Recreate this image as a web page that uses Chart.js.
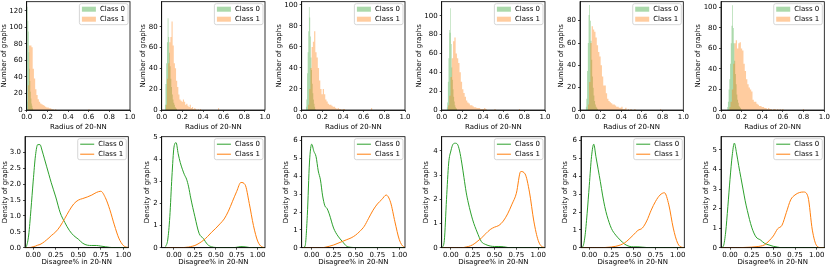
<!DOCTYPE html>
<html>
<head>
<meta charset="utf-8">
<script src="https://cdn.jsdelivr.net/npm/chart.js@4.4.0/dist/chart.umd.min.js"></script>
<style>
  html, body { margin: 0; padding: 0; background: #fff; }
  body { width: 831px; height: 269px; position: relative; overflow: hidden; }
  canvas { position: absolute; }
</style>
</head>
<body>
<script>
// ---- data ----
const classNames = ['Class 0', 'Class 1'];

// top row: histograms of "Radius of 20-NN"
const radiusTicks = [0, 0.2, 0.4, 0.6, 0.8, 1.0];
const countTicks = [
  [0, 20, 40, 60, 80, 100, 120],
  [0, 20, 40, 60, 80],
  [0, 20, 40, 60, 80, 100],
  [0, 20, 40, 60, 80, 100],
  [0, 20, 40, 60, 80],
  [0, 20, 40, 60, 80, 100]
];
const countMax = [131, 104, 103, 115, 97, 105.5];

const binStart0 = [0.0, 0.03, 0.04, 0.048, 0.055, 0.06];
const binWidth0 = [0.005, 0.007, 0.006, 0.006, 0.007, 0.007];
const counts0 = [
  [10, 125, 108, 95, 70, 50, 35, 22, 14, 8, 5, 2, 1],
  [5, 25, 45, 65, 88, 70, 55, 42, 30, 22, 15, 10, 7, 5, 3, 2, 1],
  [3, 10, 35, 55, 75, 98, 88, 70, 50, 38, 25, 16, 10, 6, 3, 1],
  [3, 8, 30, 55, 85, 82, 108, 70, 45, 32, 22, 14, 9, 5, 3, 2, 1],
  [3, 10, 35, 60, 85, 94, 80, 62, 45, 30, 20, 13, 8, 5, 3, 2, 1],
  [3, 8, 20, 30, 45, 65, 82, 102, 80, 65, 48, 35, 25, 15, 10, 7, 4, 3, 2, 1]
];

const binStart1 = [0.01, 0.04, 0.06, 0.06, 0.075, 0.08];
const binWidth1 = [0.012, 0.011, 0.012, 0.0125, 0.0125, 0.0125];
const counts1 = [
  [30, 78, 78, 76, 50, 38, 25, 18, 13, 10, 8, 7, 6, 5, 4, 3, 3, 2, 2, 1, 1, 0, 1,
   0, 0, 0, 0, 0, 0, 0, 0, 0, 0, 0, 0, 0, 0, 0, 0, 0, 0, 0, 0, 0, 0, 0, 0, 0, 0, 1],
  [5, 30, 45, 65, 70, 85, 62, 45, 40, 28, 22, 15, 10, 9, 8, 10, 8, 5, 6, 4, 3, 5, 2, 3, 1, 2, 1, 0, 1, 0, 1,
   0, 0, 0, 0, 0, 0, 0, 0, 0, 0, 0, 0, 0, 0, 0, 2],
  [5, 20, 40, 60, 65, 75, 55, 50, 40, 28, 20, 15, 20, 15, 10, 8, 6, 5, 5, 4, 3, 3, 2, 1, 2, 1, 1, 0, 1, 1,
   0, 0, 0, 0, 0, 0, 0, 0, 0, 0, 0, 0, 0, 0, 0, 0, 0, 0, 0, 0, 0, 2],
  [5, 15, 35, 55, 73, 77, 60, 55, 50, 40, 30, 22, 18, 14, 10, 8, 7, 5, 5, 4, 3, 3, 2, 2, 2, 1, 1, 1, 2, 1,
   0, 0, 0, 0, 0, 0, 1,
   0, 0, 0, 0, 0, 0, 0, 0, 0, 0, 0, 0, 0, 0, 0, 0, 0, 0, 1],
  [5, 25, 60, 75, 72, 70, 65, 58, 52, 48, 40, 30, 22, 22, 15, 10, 8, 7, 6, 5, 5, 4, 3, 3, 2, 2, 3, 1, 1, 2, 0, 1, 0, 1, 0, 0, 1,
   0, 0, 0, 0, 0, 0, 0, 0, 0, 0, 0, 0, 0, 0, 0, 0, 0, 0, 0, 1],
  [3, 8, 20, 45, 65, 68, 60, 65, 66, 60, 58, 45, 38, 30, 25, 22, 20, 18, 10, 8, 8, 6, 5, 4, 4, 3, 3, 2, 2, 1, 2, 1, 1, 0, 1, 1, 0, 1, 0, 1, 0, 1,
   0, 0, 0, 0, 0, 0, 0, 0, 0, 0, 0, 0, 0, 0, 0, 1]
];

// bottom row: density curves of "Disagree% in 20-NN"
const disagreeTicks = [0, 0.25, 0.5, 0.75, 1.0];
const disagreeMin = [-0.091, -0.147, -0.114, -0.105, -0.094, -0.104];
const disagreeMax = [1.055, 1.088, 1.065, 1.078, 1.075, 1.088];
const densityTicks = [
  [0, 0.5, 1.0, 1.5, 2.0, 2.5, 3.0],
  [0, 1, 2, 3, 4, 5],
  [0, 1, 2, 3, 4, 5, 6],
  [0, 1, 2, 3, 4],
  [0, 1, 2, 3, 4, 5, 6],
  [0, 1, 2, 3, 4, 5]
];
const densityMax = [3.5, 5.02, 6.22, 4.59, 6.22, 5.68];

const kdeX = [-0.1, -0.075, -0.05, -0.025, 0, 0.025, 0.05, 0.075, 0.1, 0.125, 0.15, 0.175, 0.2,
  0.25, 0.3, 0.35, 0.4, 0.45, 0.5, 0.55, 0.6, 0.65, 0.7, 0.75, 0.8, 0.85, 0.9, 0.95, 1.0, 1.05, 1.1];
const density0 = [
  [0, 0.05, 0.4, 1.2, 2.1, 2.9, 3.25, 3.25, 3.05, 2.8, 2.55, 2.3, 2.05, 1.6, 1.1, 0.8, 0.55, 0.38, 0.27, 0.14, 0.08, 0.07, 0.07, 0.05, 0.03, 0.01, 0, 0, 0, 0, 0],
  [0.05, 0.35, 1.4, 3.2, 4.55, 4.75, 4.25, 3.85, 3.55, 3.3, 3.1, 2.75, 2.25, 1.4, 0.65, 0.42, 0.15, 0.04, 0.01, 0, 0, 0, 0, 0.02, 0.05, 0.04, 0.01, 0, 0, 0, 0],
  [0, 0.1, 1.8, 4.8, 5.8, 5.4, 5.1, 4.3, 3.8, 2.9, 2.35, 2.2, 1.9, 1.1, 0.65, 0.35, 0.08, 0.02, 0, 0, 0, 0, 0, 0, 0, 0, 0, 0, 0, 0, 0],
  [0, 0.3, 2.0, 3.5, 4.0, 4.28, 4.32, 4.28, 4.0, 3.5, 2.9, 2.3, 1.85, 1.15, 0.65, 0.25, 0.13, 0.07, 0.05, 0.05, 0.04, 0.01, 0, 0, 0, 0, 0, 0, 0, 0, 0],
  [0, 0.05, 0.6, 1.9, 3.5, 5.1, 5.8, 5.1, 4.4, 3.7, 2.95, 2.3, 1.8, 1.08, 0.7, 0.43, 0.2, 0.08, 0.05, 0.05, 0.03, 0.01, 0, 0, 0, 0, 0, 0, 0, 0, 0],
  [0, 0.1, 0.8, 2.1, 3.5, 4.7, 5.35, 4.85, 4.2, 3.6, 3.0, 2.4, 1.9, 1.05, 0.55, 0.4, 0.22, 0.14, 0.07, 0.03, 0, 0, 0, 0, 0, 0, 0, 0, 0, 0, 0]
];
const density1 = [
  [0, 0, 0.005, 0.01, 0.03, 0.05, 0.08, 0.1, 0.14, 0.19, 0.25, 0.31, 0.38, 0.5, 0.68, 0.92, 1.17, 1.38, 1.5, 1.55, 1.6, 1.66, 1.74, 1.78, 1.58, 1.2, 0.72, 0.3, 0.07, 0.01, 0],
  [0, 0, 0, 0, 0, 0, 0, 0, 0.005, 0.01, 0.02, 0.03, 0.05, 0.1, 0.2, 0.33, 0.5, 0.7, 0.88, 1.08, 1.3, 1.65, 2.1, 2.55, 2.95, 2.85, 2.0, 1.0, 0.3, 0.04, 0],
  [0, 0, 0, 0, 0, 0, 0, 0, 0, 0.005, 0.02, 0.05, 0.08, 0.15, 0.25, 0.35, 0.45, 0.55, 0.7, 0.92, 1.2, 1.65, 2.1, 2.45, 2.7, 2.95, 2.55, 1.45, 0.45, 0.05, 0],
  [0, 0, 0, 0, 0, 0, 0, 0, 0, 0, 0.01, 0.03, 0.05, 0.12, 0.25, 0.4, 0.58, 0.75, 0.85, 0.92, 1.1, 1.4, 1.8, 2.25, 3.15, 3.05, 2.3, 1.1, 0.3, 0.03, 0],
  [0, 0, 0, 0, 0, 0, 0, 0, 0, 0, 0, 0.01, 0.02, 0.04, 0.08, 0.15, 0.27, 0.48, 0.72, 0.97, 1.1, 1.5, 2.1, 2.6, 2.95, 3.08, 2.4, 1.1, 0.25, 0.02, 0],
  [0, 0, 0, 0, 0, 0, 0, 0, 0.005, 0.01, 0.01, 0.015, 0.02, 0.03, 0.05, 0.08, 0.15, 0.35, 0.6, 0.97, 1.15, 1.8, 2.45, 2.7, 2.82, 2.85, 2.6, 0.9, 0.1, 0, 0]
];

// ---- layout of the 2x6 grid (pixels) ----
const PLOT_W = 103.3;
const FONT = { family: '"DejaVu Sans", sans-serif', size: 7 };
const HALF_LINE = FONT.size * 1.2 / 2;
const rows = [
  { top: 0, height: 134, plotTop: 1.7, plotBottom: 110,
    spine: [26.7, 161.7, 301.7, 441.7, 580, 721], gap: [22.5, 19, 22.4, 22.4, 19.3, 22.7] },
  { top: 134, height: 135, plotTop: 2.7, plotBottom: 113.7,
    spine: [25, 161.7, 301.7, 441.7, 581, 721], gap: [19.7, 14.7, 15.7, 15.7, 16, 15] }
];

const GREEN = '#2ca02c', ORANGE = '#ff7f0e';
const GREEN_A = 'rgba(44,160,44,0.4)', ORANGE_A = 'rgba(255,127,14,0.4)';

const frame = {
  id: 'frame',
  afterDatasetsDraw(chart) {
    const { ctx, chartArea: a } = chart;
    ctx.save();
    ctx.strokeStyle = '#000';
    ctx.lineWidth = 0.8;
    ctx.strokeRect(a.left, a.top, a.right - a.left, a.bottom - a.top);
    ctx.restore();
  }
};

const legendBox = {
  id: 'legendBox',
  afterDraw(chart) {
    const { ctx, chartArea: a } = chart;
    const items = chart.data.datasets;
    ctx.save();
    ctx.font = FONT.size + 'px ' + FONT.family;
    const tw = Math.max(...items.map(d => ctx.measureText(d.label).width));
    const w = 2.5 + 14 + 4 + tw + 3, h = 21;
    const x0 = a.right - 2 - w, y0 = a.top + 2;
    ctx.beginPath();
    ctx.roundRect(x0, y0, w, h, 2);
    ctx.fillStyle = 'rgba(255,255,255,0.8)';
    ctx.fill();
    ctx.strokeStyle = '#cccccc';
    ctx.lineWidth = 0.8;
    ctx.stroke();
    items.forEach((d, k) => {
      const cy = y0 + 5.5 + k * 10;
      if (d.stepped) {
        ctx.fillStyle = d.backgroundColor;
        ctx.fillRect(x0 + 2.5, cy - 2.5, 14, 5);
      } else {
        ctx.strokeStyle = d.borderColor;
        ctx.lineWidth = 1;
        ctx.beginPath();
        ctx.moveTo(x0 + 2.5, cy);
        ctx.lineTo(x0 + 16.5, cy);
        ctx.stroke();
      }
      ctx.fillStyle = '#000';
      ctx.textBaseline = 'middle';
      ctx.fillText(d.label, x0 + 20.5, cy);
    });
    ctx.restore();
  }
};

function histData(start, width, counts) {
  const pts = counts.map((c, i) => ({ x: start + i * width, y: c }));
  pts.push({ x: start + counts.length * width, y: 0 });
  return pts;
}

function axis(opts) {
  return {
    type: 'linear',
    min: opts.min,
    max: opts.max,
    afterBuildTicks: s => { s.ticks = opts.ticks.map(v => ({ value: v })); },
    afterFit: s => {
      if (opts.width !== undefined) s.width = opts.width;
      if (opts.height !== undefined) s.height = opts.height;
      s.paddingLeft = s.paddingRight = s.paddingTop = s.paddingBottom = 0;
    },
    ticks: { callback: opts.format, font: FONT, color: '#000', padding: opts.tickPad,
             autoSkip: false, maxRotation: 0, minRotation: 0 },
    grid: { drawOnChartArea: false, drawTicks: true, tickLength: 2, color: '#000', lineWidth: 0.7 },
    border: { display: true, color: '#000', width: 0.8 },
    title: { display: true, text: opts.title, font: FONT, color: '#000', padding: opts.titlePad }
  };
}

function makePanel(r, i) {
  const row = rows[r];
  const left = Math.round(row.spine[i] - row.gap[i] - HALF_LINE);
  const yWidth = row.spine[i] - left;
  const width = Math.ceil(yWidth + PLOT_W + 9);
  const cv = document.createElement('canvas');
  cv.width = width;
  cv.height = row.height;
  cv.style.left = left + 'px';
  cv.style.top = row.top + 'px';
  cv.style.width = width + 'px';
  cv.style.height = row.height + 'px';
  document.body.appendChild(cv);

  let datasets, xAxis, yAxis;
  if (r === 0) {
    datasets = [
      { label: classNames[0], data: histData(binStart0[i], binWidth0[i], counts0[i]), stepped: true,
        fill: 'origin', backgroundColor: GREEN_A, borderColor: 'rgba(0,0,0,0)', borderWidth: 0, pointRadius: 0, order: 1 },
      { label: classNames[1], data: histData(binStart1[i], binWidth1[i], counts1[i]), stepped: true,
        fill: 'origin', backgroundColor: ORANGE_A, borderColor: 'rgba(0,0,0,0)', borderWidth: 0, pointRadius: 0, order: 0 }
    ];
    xAxis = axis({ min: 0, max: 1, ticks: radiusTicks, format: v => v.toFixed(1), tickPad: 1,
                   height: row.height - row.plotBottom, title: 'Radius of 20-NN', titlePad: { top: 0, bottom: 2.5 } });
    yAxis = axis({ min: 0, max: countMax[i], ticks: countTicks[i], format: v => String(v), tickPad: 2,
                   width: yWidth, title: 'Number of graphs', titlePad: { top: 0, bottom: 0 } });
  } else {
    datasets = [
      { label: classNames[0], data: kdeX.map((x, j) => ({ x, y: density0[i][j] })), borderColor: GREEN,
        borderWidth: 1, pointRadius: 0, fill: false, cubicInterpolationMode: 'monotone', order: 1 },
      { label: classNames[1], data: kdeX.map((x, j) => ({ x, y: density1[i][j] })), borderColor: ORANGE,
        borderWidth: 1, pointRadius: 0, fill: false, cubicInterpolationMode: 'monotone', order: 0 }
    ];
    xAxis = axis({ min: disagreeMin[i], max: disagreeMax[i], ticks: disagreeTicks, format: v => v.toFixed(2), tickPad: 1,
                   height: row.height - row.plotBottom, title: 'Disagree% in 20-NN', titlePad: { top: 0, bottom: 2.5 } });
    yAxis = axis({ min: 0, max: densityMax[i], ticks: densityTicks[i],
                   format: v => (i === 0 ? v.toFixed(1) : String(v)), tickPad: 2,
                   width: yWidth, title: 'Density of graphs', titlePad: { top: 0, bottom: 0 } });
  }

  new Chart(cv, {
    type: 'line',
    data: { datasets },
    options: {
      responsive: false,
      animation: false,
      events: [],
      layout: { padding: { top: row.plotTop, right: width - yWidth - PLOT_W, bottom: 0, left: 0 } },
      plugins: { legend: { display: false }, tooltip: { enabled: false } },
      scales: { x: xAxis, y: yAxis }
    },
    plugins: [frame, legendBox]
  });
}

for (let r = 0; r < 2; r++) {
  for (let i = 0; i < 6; i++) makePanel(r, i);
}
</script>
</body>
</html>
